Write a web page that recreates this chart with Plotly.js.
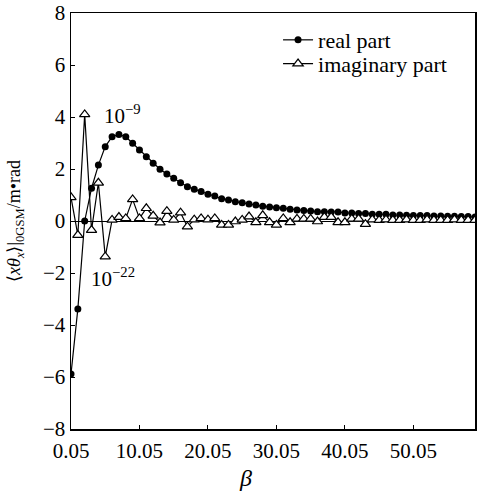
<!DOCTYPE html>
<html>
<head>
<meta charset="utf-8">
<script src="https://cdn.plot.ly/plotly-3.0.1.min.js"></script>
<style>html,body{margin:0;padding:0;background:#fff;}#chart{width:477px;height:492px;}</style>
</head>
<body>
<div id="chart"></div>
<script>
// beta values 0.05, 1.05, ..., 59.05
var beta = [0.05,1.05,2.05,3.05,4.05,5.05,6.05,7.05,8.05,9.05,
  10.05,11.05,12.05,13.05,14.05,15.05,16.05,17.05,18.05,19.05,
  20.05,21.05,22.05,23.05,24.05,25.05,26.05,27.05,28.05,29.05,
  30.05,31.05,32.05,33.05,34.05,35.05,36.05,37.05,38.05,39.05,
  40.05,41.05,42.05,43.05,44.05,45.05,46.05,47.05,48.05,49.05,
  50.05,51.05,52.05,53.05,54.05,55.05,56.05,57.05,58.05,59.05];

var realPart = [-5.88,-3.38,0.00,1.26,2.15,2.86,3.24,3.33,3.24,2.99,
  2.73,2.47,2.22,1.99,1.81,1.64,1.47,1.32,1.22,1.13,
  1.03,0.96,0.86,0.81,0.74,0.70,0.65,0.62,0.57,0.54,
  0.51,0.49,0.45,0.42,0.40,0.38,0.36,0.36,0.35,0.35,
  0.31,0.31,0.29,0.29,0.26,0.26,0.26,0.23,0.23,0.22,
  0.21,0.21,0.21,0.19,0.19,0.18,0.18,0.17,0.17,0.15];

var imagPart = [0.91,-0.54,4.10,-0.35,1.47,-1.37,0.04,0.15,0.10,0.83,
  0.10,0.49,0.20,-0.06,0.38,0.04,0.32,-0.22,0.05,0.10,
  0.05,0.10,-0.15,-0.15,-0.02,0.04,0.17,-0.05,0.22,-0.05,
  -0.15,0.10,-0.05,0.08,0.08,0.08,-0.02,0.15,0.15,-0.05,
  -0.05,0.08,0.08,-0.12,0.05,0.03,0.05,0.03,0.03,0.05,
  0.03,0.03,0.05,0.03,0.03,0.03,0.05,0.03,0.03,0.03];

var xTickVals = [0.05,10.05,20.05,30.05,40.05,50.05];
var xTickText = ['0.05','10.05','20.05','30.05','40.05','50.05'];
var yTickVals = [-8,-6,-4,-2,0,2,4,6,8];

var seriesNames = ['real part','imaginary part'];
var xLabel = '<i>β</i>';
var yLabel = '⟨<i>xθ</i><sub><i>x</i></sub>⟩|<sub>0</sub><sub>GSM</sub>/m•rad';
var noteHigh = '10<sup>−9</sup>';
var noteLow = '10<sup>−22</sup>';

var FONT = 'Liberation Serif';

var traces = [
  {x: beta, y: realPart, name: seriesNames[0], type: 'scatter', mode: 'lines+markers',
   legend: 'legend',
   line: {color: '#000', width: 1.2},
   marker: {symbol: 'circle', size: 7, color: '#000'}},
  {x: beta, y: imagPart, name: seriesNames[1], type: 'scatter', mode: 'lines+markers',
   legend: 'legend2',
   line: {color: '#000', width: 1.2},
   marker: {symbol: 'triangle-up', size: 9, color: '#fff', line: {color: '#000', width: 1.2}}}
];

var legendFont = {family: FONT, size: 22, color: '#000'};

var layout = {
  width: 477, height: 492,
  margin: {l: 71, r: 1.5, t: 12.5, b: 63, pad: 0},
  paper_bgcolor: '#fff', plot_bgcolor: '#fff',
  font: {family: FONT, size: 21, color: '#000'},
  showlegend: true,
  legend: {x: 0.5125, y: 0.935, xanchor: 'left', yanchor: 'middle',
    bgcolor: 'rgba(0,0,0,0)', borderwidth: 0, font: legendFont},
  legend2: {x: 0.5125, y: 0.878, xanchor: 'left', yanchor: 'middle',
    bgcolor: 'rgba(0,0,0,0)', borderwidth: 0, font: legendFont},
  xaxis: {range: [0.05, 59.05], tickvals: xTickVals, ticktext: xTickText,
    ticks: 'inside', ticklen: 4, tickwidth: 1, tickcolor: '#000',
    showline: true, linecolor: '#000', linewidth: 1.5, mirror: true,
    showgrid: false, zeroline: false, ticklabelstandoff: 2,
    tickfont: {family: FONT, size: 21, color: '#000'}},
  yaxis: {range: [-8, 8], tickvals: yTickVals,
    ticks: 'inside', ticklen: 4, tickwidth: 1, tickcolor: '#000',
    showline: true, linecolor: '#000', linewidth: 1.5, mirror: true,
    showgrid: false, zeroline: true, zerolinecolor: '#000', zerolinewidth: 1,
    tickfont: {family: FONT, size: 21, color: '#000'},
    title: {text: yLabel, font: {family: FONT, size: 18, color: '#000'}, standoff: 17}},
  annotations: [
    {x: 25.5, y: -0.118, xref: 'x', yref: 'paper', text: xLabel, showarrow: false,
     xanchor: 'center', yanchor: 'middle', font: {family: FONT, size: 24, color: '#000'}},
    {x: 7.53, y: 4.08, xref: 'x', yref: 'y', text: noteHigh, showarrow: false,
     xanchor: 'center', yanchor: 'middle', font: {family: FONT, size: 21, color: '#000'}},
    {x: 6.22, y: -2.19, xref: 'x', yref: 'y', text: noteLow, showarrow: false,
     xanchor: 'center', yanchor: 'middle', font: {family: FONT, size: 21, color: '#000'}}
  ]
};

Plotly.newPlot('chart', traces, layout, {displayModeBar: false, staticPlot: true});
</script>
</body>
</html>
